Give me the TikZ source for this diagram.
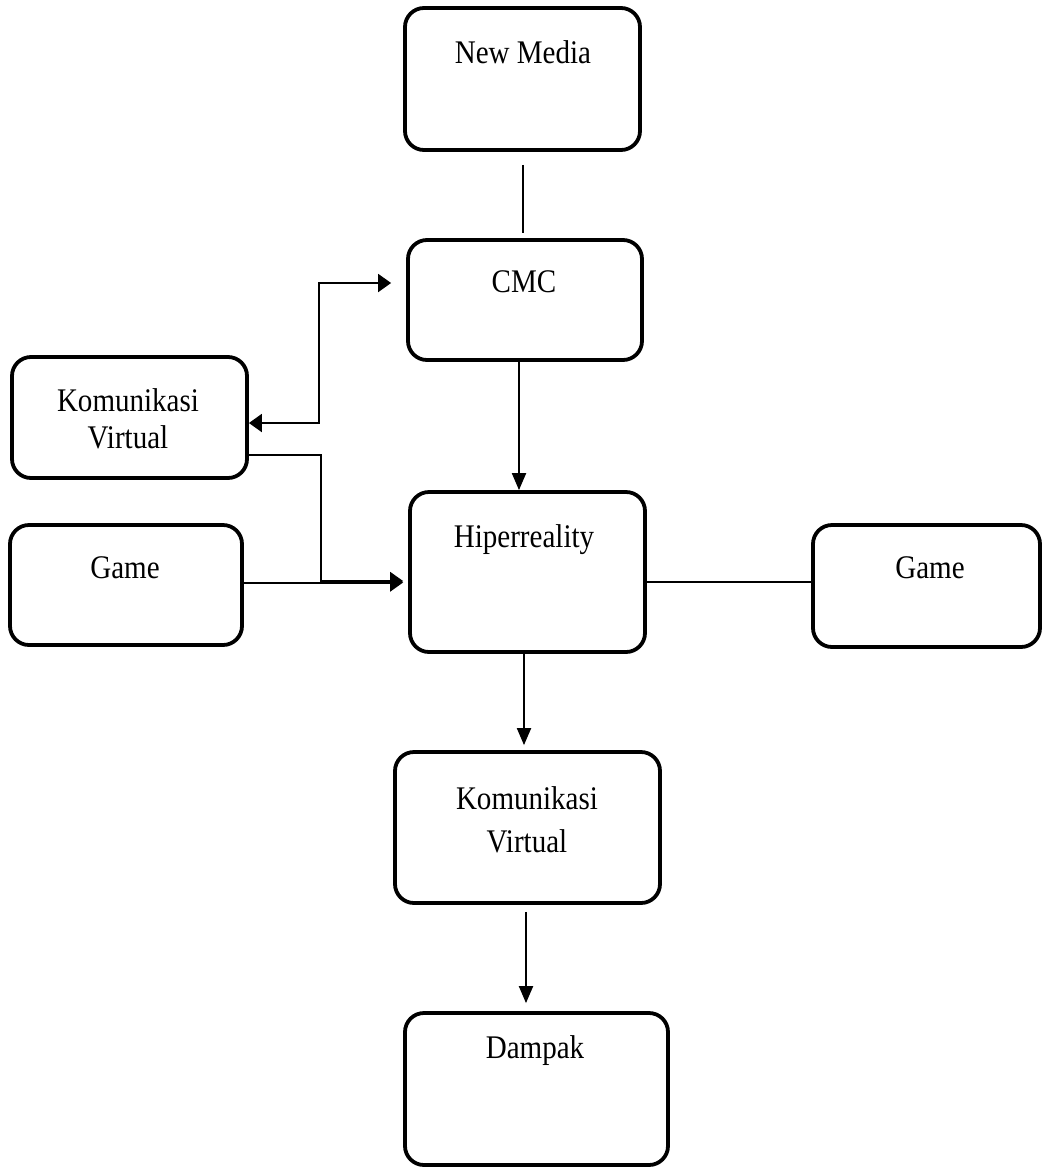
\documentclass[tikz,border=0pt]{standalone}
\usepackage{fontspec}
\setmainfont{Liberation Serif}[FakeStretch=0.88]
\usetikzlibrary{positioning,calc,arrows.meta}

\begin{document}
\begin{tikzpicture}[x=1pt, y=-1pt,
    box/.style={draw, line width=3.8pt, rounded corners=19pt, inner sep=0pt},
    txt/.style={anchor=base, align=center, inner sep=0pt, font=\fontsize{33}{37}\selectfont},
    link/.style={line width=2pt},
    arrv/.style={link, -{Triangle[length=17pt, width=14pt]}},
    arrh/.style={link, -{Triangle[length=13pt, width=18pt]}}]
    \useasboundingbox (0,0) rectangle (1043,1171);

    % Boxes
    \node[box, minimum width=235pt, minimum height=142pt] (newmedia) at (522.5,79) {};
    \node[box, minimum width=234pt, minimum height=120pt] (cmc) at (525,300) {};
    \node[box, minimum width=235pt, minimum height=121pt] (kvleft) at (129.5,417.5) {};
    \node[box, minimum width=232pt, minimum height=120pt] (gameleft) at (126,585) {};
    \node[box, minimum width=235pt, minimum height=160pt] (hiper) at (527.5,572) {};
    \node[box, minimum width=227pt, minimum height=122pt] (gameright) at (926.5,586) {};
    \node[box, minimum width=265pt, minimum height=151pt] (kvbottom) at (527.5,827.5) {};
    \node[box, minimum width=263pt, minimum height=152pt] (dampak) at (536.5,1089) {};

    % Texts
    \node[txt] (newmediaT) at (523,63) {New Media};
    \node[txt] (cmcT) at (524,292) {CMC};
    \node[txt] (kvleftT) at (128,448) {Komunikasi\\Virtual};
    \node[txt] (gameleftT) at (125,578) {Game};
    \node[txt] (hiperT) at (524,547) {Hiperreality};
    \node[txt] (gamerightT) at (930,578) {Game};
    \node[txt] (kvbottomT) at (527,852) {Komunikasi\\[6pt]Virtual};
    \node[txt] (dampakT) at (535,1058) {Dampak};

    % Main column
    \draw[link, shorten <=13pt, shorten >=5pt] (newmedia.south) -- (newmedia.south |- cmc.north);
    \draw[arrv] ([xshift=-6pt]cmc.south) -- ([xshift=-6pt]cmc.south |- hiper.north);
    \draw[arrv, shorten >=5pt] ([xshift=-3.5pt]hiper.south) -- ([xshift=-3.5pt]hiper.south |- kvbottom.north);
    \draw[arrv, shorten <=7pt, shorten >=8pt] ([xshift=-1.5pt]kvbottom.south) -- ([xshift=-1.5pt]kvbottom.south |- dampak.north);

    % Komunikasi Virtual <-> CMC
    \draw[link, {Triangle[length=13pt, width=18pt]}-{Triangle[length=13pt, width=18pt]}]
        ([yshift=-5.5pt]kvleft.east) -| ([xshift=-87pt, yshift=17pt]cmc.west)
        -- ([xshift=-15pt, yshift=17pt]cmc.west);

    % Komunikasi Virtual and Game into Hiperreality
    \draw[arrh] ([yshift=-37.5pt]kvleft.east) -| ([xshift=-87pt, yshift=-9pt]hiper.west)
        -- ([xshift=-5pt, yshift=-9pt]hiper.west);
    \draw[arrh, shorten >=5pt] ([yshift=2.5pt]gameleft.east) -- ([yshift=2.5pt]gameleft.east -| hiper.west);

    % Hiperreality -- Game
    \draw[link] ([yshift=-10pt]hiper.east) -- ([yshift=-10pt]hiper.east -| gameright.west);
\end{tikzpicture}
\end{document}
